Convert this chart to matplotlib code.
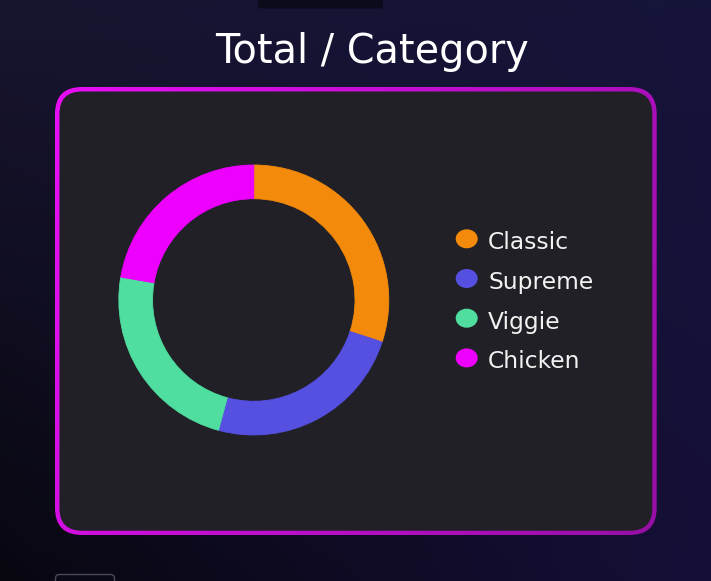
import numpy as np
import matplotlib
matplotlib.use("Agg")
import matplotlib.pyplot as plt
from matplotlib.patches import FancyBboxPatch, Ellipse

# ---- data ----
categories = ["Classic", "Supreme", "Viggie", "Chicken"]
values = [14888, 11987, 11649, 11050]
colors = ["#F38A0B", "#5550E0", "#4FDE9F", "#EE00FE"]
title = "Total / Category"

W, H = 711, 581
fig = plt.figure(figsize=(W / 100, H / 100), dpi=100)
bg = fig.add_axes([0, 0, 1, 1])
bg.axis("off")

# gradient page background
tl, tr, bl, br = [np.array(c) / 255 for c in [(24, 21, 48), (21, 20, 58), (8, 7, 16), (22, 15, 56)]]
u = np.linspace(0, 1, 200)[None, :, None]
v = np.linspace(0, 1, 200)[:, None, None]
img = (1 - v) * ((1 - u) * tl + u * tr) + v * ((1 - u) * bl + u * br)
bg.imshow(img, extent=(0, W, H, 0), aspect="auto", zorder=0, interpolation="bilinear")

# small decorative pieces at the edges
bg.add_patch(FancyBboxPatch((258, -6), 125, 14.5, boxstyle="round,pad=0,rounding_size=3",
                            fc="#0c0b1c", ec="none", zorder=1))
bg.add_patch(FancyBboxPatch((55.5, 574.5), 59, 20, boxstyle="round,pad=0,rounding_size=4",
                            fc="#0a0918", ec="#4a4a58", lw=1, zorder=1))

# panel border with gradient
ox, oy, ow, oh = 55, 87, 601.7, 448
outer = FancyBboxPatch((ox, oy), ow, oh, boxstyle="round,pad=0,rounding_size=27",
                       fc="none", ec="none", zorder=2)
bg.add_patch(outer)
c1 = np.array([232, 14, 245]) / 255
c2 = np.array([150, 16, 166]) / 255
t = 0.75 * u + 0.25 * v
bimg = (1 - t) * c1 + t * c2
im = bg.imshow(bimg, extent=(ox, ox + ow, oy + oh, oy), aspect="auto", zorder=2,
               interpolation="bilinear")
im.set_clip_path(outer)

inner = FancyBboxPatch((59.5, 91.5), 592.8, 439.2, boxstyle="round,pad=0,rounding_size=22.5",
                       fc="#202026", ec="none", zorder=3)
bg.add_patch(inner)

bg.set_xlim(0, W)
bg.set_ylim(H, 0)

# title
bg.text(372, 63.3, title, ha="center", va="baseline", fontsize=28.6, color="white",
        family="DejaVu Sans", zorder=5)

# legend
for i, (cat, col) in enumerate(zip(categories, colors)):
    yc = 238.8 + 39.7 * i
    bg.add_patch(Ellipse((466.7, yc), 22, 19, fc=col, ec="none", zorder=5))
    bg.text(488, yc + 10.5, cat, ha="left", va="baseline", fontsize=16.8, color="#f2f2f2",
            family="DejaVu Sans", zorder=5)

# donut
cx, cy, R = 253.8, 300, 135
ax = fig.add_axes([(cx - 150) / W, (H - cy - 150) / H, 300 / W, 300 / H])
ax.set_facecolor("none")
wedges, _ = ax.pie(values, colors=colors, startangle=90, counterclock=False, radius=1,
                   wedgeprops=dict(width=0.25, linewidth=0.6))
for w in wedges:
    w.set_edgecolor(w.get_facecolor())
lim = 150 / R
ax.set_xlim(-lim, lim)
ax.set_ylim(-lim, lim)
ax.axis("off")

fig.savefig("out.png", dpi=100)
